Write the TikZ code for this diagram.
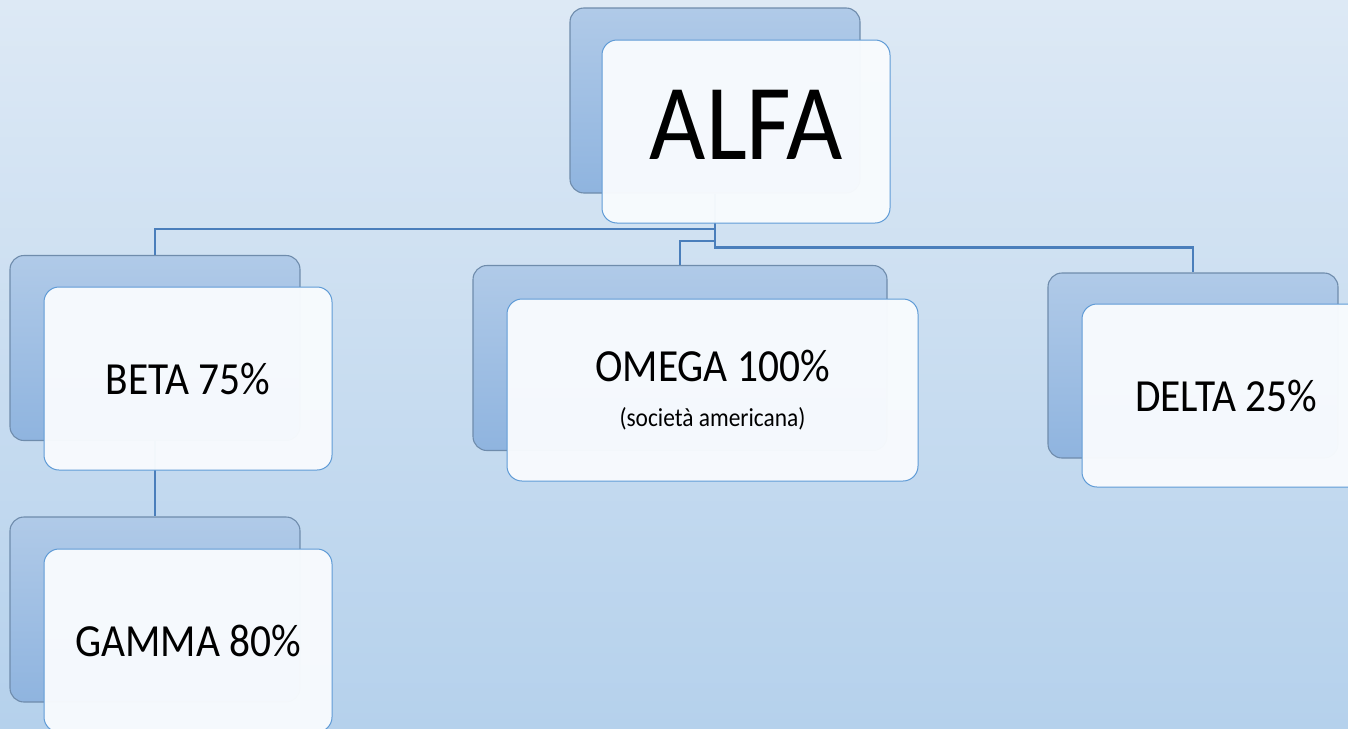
\documentclass[tikz,border=0pt]{standalone}
\usepackage{fontspec}
\setmainfont{Carlito}[FakeStretch=0.9]
\usepackage{tikz}
\usepackage{xcolor}
\usetikzlibrary{calc}
\definecolor{bgtopc}{HTML}{DDE9F5}
\definecolor{bgbotc}{HTML}{B5D1EC}
\definecolor{backtopc}{HTML}{B0CAE8}
\definecolor{backbotc}{HTML}{8FB4DF}
\definecolor{backlinec}{HTML}{6F8CAC}
\definecolor{frontfillc}{HTML}{F8FBFE}
\definecolor{frontlinec}{HTML}{5F9BD6}
\definecolor{linkc}{HTML}{4A7EBB}
\tikzstyle{backbox} = [
    draw=backlinec,
    line width=1.1pt,
    top color=backtopc,
    bottom color=backbotc,
    rounded corners=14pt,
    minimum width=290pt,
    minimum height=185pt,
    inner sep=0pt
    ]
\tikzstyle{frontbox} = [
    draw=frontlinec,
    line width=1pt,
    fill=frontfillc,
    fill opacity=0.97,
    text opacity=1,
    text=black,
    rounded corners=15pt,
    minimum width=288pt,
    minimum height=183pt,
    inner sep=0pt,
    align=center,
    font=\fontsize{46}{45}\selectfont
    ]
\tikzstyle{link} = [
    draw=linkc,
    line width=2.2pt
    ]

\begin{document}
\begin{tikzpicture}[x=1pt,y=-1pt]
\shade[top color=bgtopc, bottom color=bgbotc] (0,0) rectangle (1348,728);
\useasboundingbox (0,0) rectangle (1348,728);

% back boxes
\node [backbox] (alfaback) at (715,100.5) {};
\node [backbox] (betaback) at (155,348) {};
\node [backbox] (gammaback) at (155,609.5) {};
\node [backbox, minimum width=414pt] (omegaback) at (680,358) {};
\node [backbox] (deltaback) at (1193,365.5) {};

% links
\draw [link] (alfaback.south) |- ([yshift=26pt]betaback.north) -- (betaback.north);
\draw [link] (alfaback.south) |- ([yshift=24pt]omegaback.north) -- (omegaback.north);
\draw [link] (alfaback.south) |- ([yshift=25pt]deltaback.north) -- (deltaback.north);
\draw [link] (betaback.south) -- (gammaback.north);

% front boxes
\node [frontbox, font=\fontsize{108}{108}\selectfont, text height=55pt, text depth=0pt]
    (alfa) at ($(alfaback.center)+(31,31)$) {ALFA};
\node [frontbox] (beta) at ($(betaback.center)+(33,30.5)$) {BETA 75\%};
\node [frontbox] (gamma) at ($(gammaback.center)+(33,31)$) {GAMMA 80\%};
\node [frontbox, minimum width=411pt, minimum height=182pt] (omega)
    at ($(omegaback.center)+(32.5,32)$)
    {OMEGA 100\%\\{\fontsize{26}{28}\selectfont (società americana)}};
\node [frontbox] (delta) at ($(deltaback.center)+(33,30)$) {DELTA 25\%};
\end{tikzpicture}
\end{document}
